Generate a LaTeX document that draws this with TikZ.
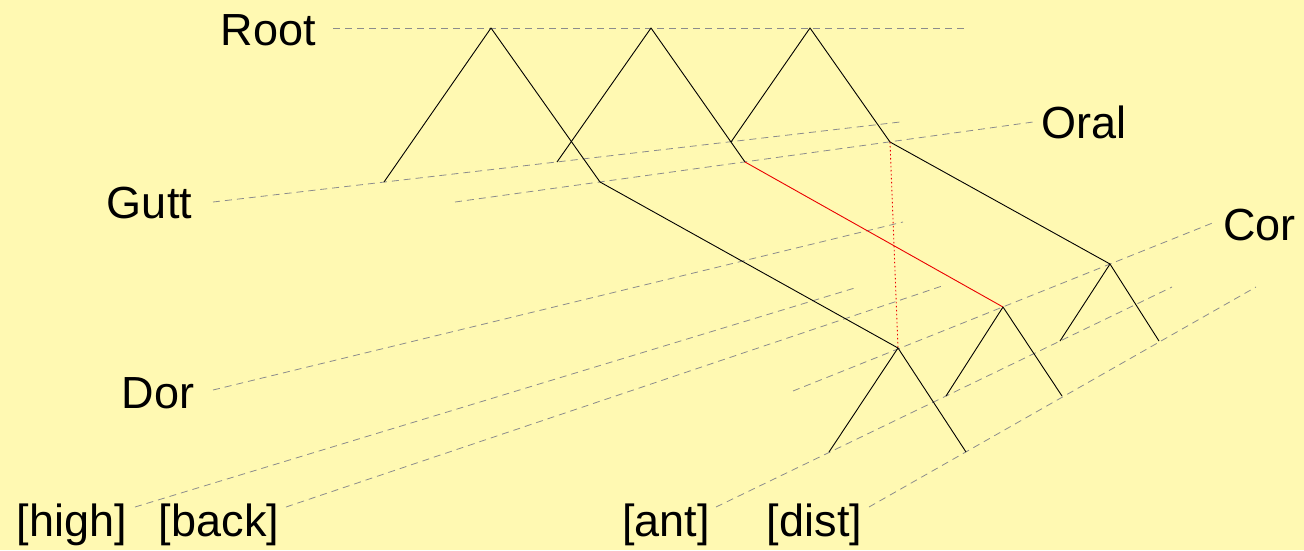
\documentclass[tikz,border=0pt]{standalone}
\usepackage{fontspec}
\setmainfont{Liberation Sans}
\definecolor{bgyellow}{RGB}{255,249,178}
\definecolor{guide}{RGB}{140,140,140}
\definecolor{linkred}{RGB}{235,0,0}
\begin{document}
\begin{tikzpicture}[x=1pt,y=-1pt,
  lbl/.style={anchor=base,inner sep=0pt,font=\fontsize{45}{54}\selectfont},
  guideline/.style={draw=guide,line width=0.8pt,dash pattern=on 7pt off 5pt},
  branch/.style={draw=black,line width=0.9pt,line join=round},
  redlink/.style={draw=linkred,line width=0.9pt},
  reddot/.style={draw=linkred,line width=0.9pt,dash pattern=on 1.5pt off 2.5pt}]
\fill[bgyellow] (0,0) rectangle (1304,550);
\useasboundingbox (0,0) rectangle (1304,550);
% labels
\node[lbl] (root) at (268.5,45) {Root};
\node[lbl] (gutt) at (149.5,218) {Gutt};
\node[lbl] (dor) at (158,408) {Dor};
\node[lbl] (oral) at (1084,138) {Oral};
\node[lbl] (cor) at (1259.5,240) {Cor};
\node[lbl] (high) at (72,536) {[high]};
\node[lbl] (back) at (219,536) {[back]};
\node[lbl] (ant) at (666,536) {[ant]};
\node[lbl] (dist) at (814.5,536) {[dist]};
% tree points
\coordinate (a1) at (491,28);
\coordinate (a2) at (651,28);
\coordinate (a3) at (810,28);
\coordinate (g1) at (384,182);
\coordinate (g2) at (557,162);
\coordinate (g3) at (731,142);
\coordinate (o1) at (600,182);
\coordinate (o2) at (745,162);
\coordinate (o3) at (890,142);
\coordinate (d1) at (898,348);
\coordinate (d2) at (1003,307);
\coordinate (d3) at (1110,264);
\coordinate (n1) at (829,452);
\coordinate (n2) at (946,396);
\coordinate (n3) at (1060,341);
\coordinate (s1) at (966,452);
\coordinate (s2) at (1062,396);
\coordinate (s3) at (1159,341);
% guide line ends
\coordinate (rootL) at (333,28);
\coordinate (rootR) at (965,28);
\coordinate (guttL) at (213,202);
\coordinate (guttR) at (900,122);
\coordinate (oralL) at (455,202);
\coordinate (oralR) at (1033,122);
\coordinate (dorL) at (213,390);
\coordinate (dorR) at (903,222);
\coordinate (highL) at (135,507);
\coordinate (highR) at (858,287);
\coordinate (backL) at (286,507);
\coordinate (backR) at (945,285);
\coordinate (corL) at (793,391);
\coordinate (corR) at (1215,222);
\coordinate (antL) at (716,507);
\coordinate (antR) at (1172,287);
\coordinate (distL) at (869,507);
\coordinate (distR) at (1256,287);
% guide lines
\draw[guideline] (rootL) -- (rootR);
\draw[guideline] (guttL) -- (guttR);
\draw[guideline] (oralL) -- (oralR);
\draw[guideline] (dorL) -- (dorR);
\draw[guideline] (highL) -- (highR);
\draw[guideline] (backL) -- (backR);
\draw[guideline] (corL) -- (corR);
\draw[guideline] (antL) -- (antR);
\draw[guideline] (distL) -- (distR);
% upper trees
\draw[branch] (g1) -- (a1) -- (o1);
\draw[branch] (g2) -- (a2) -- (o2);
\draw[branch] (g3) -- (a3) -- (o3);
% links to lower tier
\draw[branch] (o1) -- (d1);
\draw[redlink] (o2) -- (d2);
\draw[branch] (o3) -- (d3);
\draw[reddot] (o3) -- (d1);
% lower trees
\draw[branch] (n1) -- (d1) -- (s1);
\draw[branch] (n2) -- (d2) -- (s2);
\draw[branch] (n3) -- (d3) -- (s3);
\end{tikzpicture}
\end{document}
